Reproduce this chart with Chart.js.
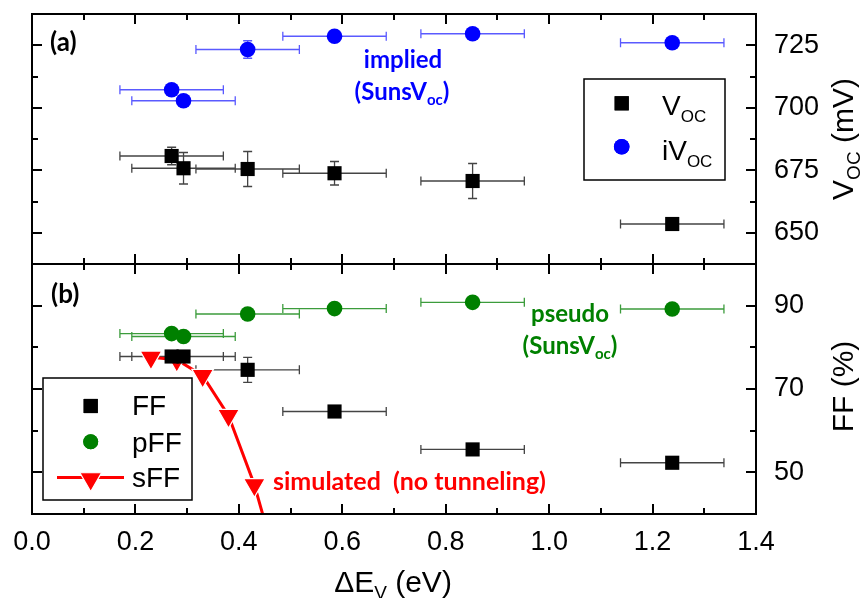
<!DOCTYPE html>
<html>
<head>
<meta charset="utf-8">
<script src="https://cdn.jsdelivr.net/npm/chart.js@4.4.0/dist/chart.umd.min.js"></script>
<style>
  html, body { margin: 0; padding: 0; background: #fff; }
  #wrap { position: relative; width: 867px; height: 598px; }
  canvas { position: absolute; left: 0; top: 0; }
</style>
</head>
<body>
<div id="wrap">
  <canvas id="vocChart" width="867" height="598"></canvas>
  <canvas id="ffChart" width="867" height="598"></canvas>
</div>
<script>
// Values
const deltaEv = [0.27, 0.293, 0.417, 0.585, 0.852, 1.238];
const deltaEvErr = [0.1, 0.1, 0.1, 0.1, 0.1, 0.1];
const vocValues = [680.7, 675.8, 675.5, 673.8, 670.7, 653.5];
const vocErr = [3.5, 6.3, 7, 4.7, 7, 1.5];
const ivocValues = [707.2, 702.8, 723.3, 728.6, 729.6, 726];
const ivocErr = [1, 1, 3.5, 1, 1, 1];
const ffValues = [77.8, 77.8, 74.6, 64.6, 55.5, 52.3];
const ffErr = [0.8, 0.8, 3, 0.6, 0.6, 0.6];
const pffValues = [83.3, 82.6, 88.0, 89.3, 90.8, 89.2];
const pffErr = [0.5, 0.5, 0.5, 0.5, 0.5, 0.5];
const simDeltaEv = [0.23, 0.28, 0.33, 0.38, 0.43, 0.48];
const sffValues = [77.6, 77.0, 73.2, 63.6, 47.0, 25];

// Tick positions
const xTicks = [0, 0.2, 0.4, 0.6, 0.8, 1.0, 1.2, 1.4];
const xMinorTicks = [0.1, 0.3, 0.5, 0.7, 0.9, 1.1, 1.3];
const vocTicks = [650, 675, 700, 725];
const vocMinorTicks = [662.5, 687.5, 712.5];
const ffTicks = [50, 70, 90];
const ffMinorTicks = [60, 80];

const AXIS_FONT = 'Liberation Sans, Arial, sans-serif';
const NOTE_FONT = 'Lato, sans-serif';

function points(xs, ys) {
    return xs.map((x, i) => ({ x: x, y: ys[i] }));
}

// Draw text made of pieces (for subscripts), y is the baseline
function drawRich(ctx, parts, x, y, align, color) {
    let w = 0;
    parts.forEach(p => { ctx.font = p[1]; w += ctx.measureText(p[0]).width; });
    let cx = align === 'center' ? x - w / 2 : (align === 'right' ? x - w : x);
    ctx.fillStyle = color;
    ctx.textAlign = 'left';
    ctx.textBaseline = 'alphabetic';
    parts.forEach(p => {
        ctx.font = p[1];
        ctx.fillText(p[0], cx, y + (p[2] || 0));
        cx += ctx.measureText(p[0]).width;
    });
}

// Error bars drawn under the markers
const errorBarPlugin = {
    id: 'errorBars',
    beforeDatasetsDraw(chart) {
        const ctx = chart.ctx;
        const x = chart.scales.x, y = chart.scales.y;
        chart.data.datasets.forEach(ds => {
            if (!ds.errX && !ds.errY) return;
            ctx.save();
            ctx.strokeStyle = ds.errColor;
            ctx.lineWidth = 1.3;
            ctx.beginPath();
            ds.data.forEach((p, i) => {
                const px = x.getPixelForValue(p.x);
                const py = y.getPixelForValue(p.y);
                if (ds.errX) {
                    const x0 = x.getPixelForValue(p.x - ds.errX[i]);
                    const x1 = x.getPixelForValue(p.x + ds.errX[i]);
                    ctx.moveTo(x0, py); ctx.lineTo(x1, py);
                    ctx.moveTo(x0, py - 4.5); ctx.lineTo(x0, py + 4.5);
                    ctx.moveTo(x1, py - 4.5); ctx.lineTo(x1, py + 4.5);
                }
                if (ds.errY) {
                    const y0 = y.getPixelForValue(p.y - ds.errY[i]);
                    const y1 = y.getPixelForValue(p.y + ds.errY[i]);
                    ctx.moveTo(px, y0); ctx.lineTo(px, y1);
                    ctx.moveTo(px - 4.5, y0); ctx.lineTo(px + 4.5, y0);
                    ctx.moveTo(px - 4.5, y1); ctx.lineTo(px + 4.5, y1);
                }
            });
            ctx.stroke();
            ctx.restore();
        });
    }
};

// Box around the plot with inward ticks on all four sides
const framePlugin = {
    id: 'frame',
    afterDraw(chart, args, opts) {
        const ctx = chart.ctx, a = chart.chartArea;
        const x = chart.scales.x, y = chart.scales.y;
        ctx.save();
        ctx.strokeStyle = '#000';
        ctx.lineWidth = 2;
        ctx.strokeRect(a.left, a.top, a.right - a.left, a.bottom - a.top);
        ctx.beginPath();
        const xt = (vals, len) => vals.forEach(v => {
            const px = Math.round(x.getPixelForValue(v));
            ctx.moveTo(px, a.top); ctx.lineTo(px, a.top + len);
            ctx.moveTo(px, a.bottom); ctx.lineTo(px, a.bottom - len);
        });
        const yt = (vals, len) => vals.forEach(v => {
            const py = Math.round(y.getPixelForValue(v));
            ctx.moveTo(a.left, py); ctx.lineTo(a.left + len, py);
            ctx.moveTo(a.right, py); ctx.lineTo(a.right - len, py);
        });
        xt(xTicks, 10);
        xt(xMinorTicks, 6);
        yt(opts.major, 10);
        yt(opts.minor, 6);
        ctx.stroke();
        ctx.restore();
    }
};

// Labels, legends and axis titles
const vocTextPlugin = {
    id: 'vocText',
    afterDraw(chart) {
        const ctx = chart.ctx;
        ctx.save();
        drawRich(ctx, [['(a)', 'bold 26px ' + NOTE_FONT]], 50, 51, 'left', '#000');
        drawRich(ctx, [['implied', 'bold 24px ' + NOTE_FONT]], 403, 68, 'center', '#0000ff');
        drawRich(ctx, [['(SunsV', 'bold 24px ' + NOTE_FONT], ['oc', 'bold 15px ' + NOTE_FONT, 5],
            [')', 'bold 24px ' + NOTE_FONT]], 402, 100, 'center', '#0000ff');

        // legend
        ctx.strokeStyle = '#000';
        ctx.lineWidth = 1.5;
        ctx.strokeRect(584, 79, 141, 101);
        ctx.fillStyle = '#000';
        Chart.helpers.drawPoint(ctx, { pointStyle: 'rect', radius: 10, rotation: 0 }, 621.7, 103.3);
        ctx.fill();
        ctx.fillStyle = '#0000ff';
        Chart.helpers.drawPoint(ctx, { pointStyle: 'circle', radius: 7.8, rotation: 0 }, 621.7, 146.7);
        ctx.fill();
        drawRich(ctx, [['V', '28px ' + AXIS_FONT], ['OC', '17px ' + AXIS_FONT, 7]], 662, 115, 'left', '#000');
        drawRich(ctx, [['iV', '28px ' + AXIS_FONT], ['OC', '17px ' + AXIS_FONT, 7]], 662, 160, 'left', '#000');

        // right axis title
        ctx.translate(853, 139);
        ctx.rotate(-Math.PI / 2);
        drawRich(ctx, [['V', '30px ' + AXIS_FONT], ['OC', '19px ' + AXIS_FONT, 7], [' (mV)', '30px ' + AXIS_FONT]],
            0, 0, 'center', '#000');
        ctx.restore();
    }
};

const ffTextPlugin = {
    id: 'ffText',
    afterDraw(chart) {
        const ctx = chart.ctx;
        ctx.save();
        drawRich(ctx, [['(b)', 'bold 26px ' + NOTE_FONT]], 51, 303, 'left', '#000');
        drawRich(ctx, [['pseudo', 'bold 24px ' + NOTE_FONT]], 570, 322, 'center', '#008000');
        drawRich(ctx, [['(SunsV', 'bold 24px ' + NOTE_FONT], ['oc', 'bold 15px ' + NOTE_FONT, 5],
            [')', 'bold 24px ' + NOTE_FONT]], 570, 354, 'center', '#008000');
        drawRich(ctx, [['simulated  (no tunneling)', 'bold 25px ' + NOTE_FONT]], 273, 490, 'left', '#ff0000');

        // legend
        ctx.strokeStyle = '#000';
        ctx.lineWidth = 1.5;
        ctx.fillStyle = '#fff';
        ctx.fillRect(43, 378, 149, 122);
        ctx.strokeRect(43, 378, 149, 122);
        ctx.fillStyle = '#000';
        Chart.helpers.drawPoint(ctx, { pointStyle: 'rect', radius: 10, rotation: 0 }, 90.7, 406);
        ctx.fill();
        ctx.fillStyle = '#008000';
        Chart.helpers.drawPoint(ctx, { pointStyle: 'circle', radius: 7.5, rotation: 0 }, 90.7, 441.7);
        ctx.fill();
        ctx.strokeStyle = '#ff0000';
        ctx.lineWidth = 3;
        ctx.beginPath();
        ctx.moveTo(57, 477.5); ctx.lineTo(124, 477.5);
        ctx.stroke();
        ctx.fillStyle = '#ff0000';
        ctx.strokeStyle = '#fff';
        ctx.lineWidth = 1.2;
        Chart.helpers.drawPoint(ctx, { pointStyle: 'triangle', radius: 12.5, rotation: 180, borderWidth: 1.2 }, 90.7, 479);
        drawRich(ctx, [['FF', '28px ' + AXIS_FONT]], 132, 415, 'left', '#000');
        drawRich(ctx, [['pFF', '28px ' + AXIS_FONT]], 132, 451.5, 'left', '#000');
        drawRich(ctx, [['sFF', '28px ' + AXIS_FONT]], 132, 487, 'left', '#000');

        // x axis title
        drawRich(ctx, [['\u0394E', '30px ' + AXIS_FONT], ['V', '19px ' + AXIS_FONT, 7], [' (eV)', '30px ' + AXIS_FONT]],
            393, 592, 'center', '#000');

        // right axis title
        ctx.translate(853, 386.5);
        ctx.rotate(-Math.PI / 2);
        drawRich(ctx, [['FF (%)', '30px ' + AXIS_FONT]], 0, 0, 'center', '#000');
        ctx.restore();
    }
};

function yAxis(min, max, ticks) {
    return {
        type: 'linear',
        position: 'right',
        min: min,
        max: max,
        afterBuildTicks: s => { s.ticks = ticks.map(v => ({ value: v })); },
        afterFit: s => { s.width = 111; s.paddingTop = 0; s.paddingBottom = 0; },
        grid: { display: false },
        border: { display: false },
        ticks: { font: { family: AXIS_FONT, size: 27 }, color: '#000', padding: 10 }
    };
}

const baseOptions = {
    responsive: false,
    animation: false,
    events: [],
    plugins: { legend: { display: false }, tooltip: { enabled: false } }
};

// Panel (a): Voc
new Chart(document.getElementById('vocChart'), {
    type: 'scatter',
    data: {
        datasets: [
            {
                label: 'Voc',
                data: points(deltaEv, vocValues),
                pointStyle: 'rect',
                pointRadius: 10,
                backgroundColor: '#000',
                borderColor: '#000',
                borderWidth: 0,
                errX: deltaEvErr,
                errY: vocErr,
                errColor: '#444'
            },
            {
                label: 'iVoc',
                data: points(deltaEv, ivocValues),
                pointStyle: 'circle',
                pointRadius: 7.8,
                backgroundColor: '#0000ff',
                borderColor: '#0000ff',
                borderWidth: 0,
                errX: deltaEvErr,
                errY: ivocErr,
                errColor: '#5a5aff'
            }
        ]
    },
    options: Object.assign({}, baseOptions, {
        layout: { padding: { left: 32, top: 14, right: 0, bottom: 334 } },
        plugins: Object.assign({}, baseOptions.plugins, {
            frame: { major: vocTicks, minor: vocMinorTicks }
        }),
        scales: {
            x: { type: 'linear', min: 0, max: 1.4, display: false },
            y: yAxis(637.5, 737.5, vocTicks)
        }
    }),
    plugins: [errorBarPlugin, framePlugin, vocTextPlugin]
});

// Panel (b): FF
new Chart(document.getElementById('ffChart'), {
    type: 'scatter',
    data: {
        datasets: [
            {
                label: 'FF',
                data: points(deltaEv, ffValues),
                pointStyle: 'rect',
                pointRadius: 10,
                backgroundColor: '#000',
                borderColor: '#000',
                borderWidth: 0,
                errX: deltaEvErr,
                errY: ffErr,
                errColor: '#444'
            },
            {
                label: 'pFF',
                data: points(deltaEv, pffValues),
                pointStyle: 'circle',
                pointRadius: 7.8,
                backgroundColor: '#008000',
                borderColor: '#008000',
                borderWidth: 0,
                errX: deltaEvErr,
                errY: pffErr,
                errColor: '#3c9c3c'
            },
            {
                label: 'sFF',
                data: points(simDeltaEv, sffValues),
                showLine: true,
                borderColor: '#ff0000',
                borderWidth: 3,
                pointStyle: 'triangle',
                pointRotation: 180,
                pointRadius: 12.5,
                pointBackgroundColor: '#ff0000',
                pointBorderColor: '#fff',
                pointBorderWidth: 1.2
            }
        ]
    },
    options: Object.assign({}, baseOptions, {
        layout: { padding: { left: 32, top: 264, right: 0, bottom: 0 } },
        plugins: Object.assign({}, baseOptions.plugins, {
            frame: { major: ffTicks, minor: ffMinorTicks }
        }),
        scales: {
            x: {
                type: 'linear',
                min: 0,
                max: 1.4,
                afterBuildTicks: s => { s.ticks = xTicks.map(v => ({ value: v })); },
                afterFit: s => { s.height = 84; s.paddingLeft = 0; s.paddingRight = 0; },
                grid: { display: false },
                border: { display: false },
                ticks: {
                    font: { family: AXIS_FONT, size: 27 },
                    color: '#000',
                    padding: 4,
                    maxRotation: 0,
                    callback: v => v.toFixed(1)
                }
            },
            y: yAxis(40, 100, ffTicks)
        }
    }),
    plugins: [errorBarPlugin, framePlugin, ffTextPlugin]
});
</script>
</body>
</html>
